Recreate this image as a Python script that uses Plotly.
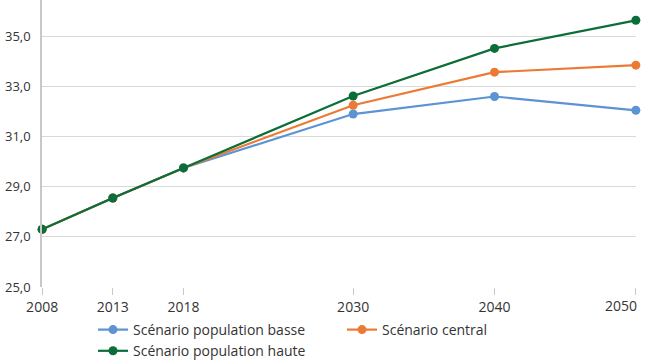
import plotly.graph_objects as go

years = [2008, 2013, 2018, 2030, 2040, 2050]
year_labels = ["2008", "2013", "2018", "2030", "2040", "2050"]
basse = [27.3, 28.55, 29.75, 31.9, 32.6, 32.05]
central = [27.3, 28.55, 29.75, 32.25, 33.57, 33.85]
haute = [27.3, 28.55, 29.75, 32.62, 34.52, 35.64]
yticks = [25, 27, 29, 31, 33, 35]

series = [
    ("Scénario population basse", basse, "#5b93d3"),
    ("Scénario central", central, "#ec7a34"),
    ("Scénario population haute", haute, "#0b6e38"),
]

fig = go.Figure()
for name, vals, col in series:
    fig.add_trace(go.Scatter(
        x=years, y=vals, name=name, mode="lines+markers",
        line=dict(color=col, width=2.2),
        marker=dict(color=col, size=9),
        cliponaxis=False,
    ))

# last tick label is right-aligned to stay inside the chart, as in the original
ticktext = year_labels[:-1] + [""]
fig.add_annotation(
    x=years[-1], y=0, xref="x", yref="paper", text=year_labels[-1],
    showarrow=False, xanchor="right", yanchor="top", xshift=3, yshift=-7,
    font=dict(size=14, color="#333333"),
)

font = "Open Sans"
fig.update_layout(
    width=646, height=363,
    margin=dict(l=42, r=10, t=0, b=76, autoexpand=False),
    paper_bgcolor="white", plot_bgcolor="white",
    separators=",.",
    font=dict(family=font, size=14, color="#333333"),
    showlegend=True,
    legend=dict(
        orientation="h", x=93 / 646, y=1 - 314 / 363, xref="container", yref="container",
        xanchor="left", yanchor="top",
        entrywidth=204, entrywidthmode="pixels",
        font=dict(size=14, color="#333333"),
        itemwidth=30, tracegroupgap=0,
    ),
    xaxis=dict(
        range=[2007.99, 2050.01], tickmode="array", tickvals=years, ticktext=ticktext,
        showgrid=False, zeroline=False,
        showline=False, ticks="outside", ticklen=7, tickcolor="#c8c8c8",
        tickfont=dict(size=14, color="#333333"),
        ticklabeloverflow="allow",
    ),
    yaxis=dict(
        range=[25, 36.45], tickmode="array", tickvals=yticks, tickformat=".1f",
        showgrid=True, gridcolor="#d9d9d9", gridwidth=1,
        zeroline=False, showline=True, linecolor="#c8c8c8", linewidth=1.5,
        ticks="", ticklabelstandoff=7, ticklabeloverflow="allow",
        tickfont=dict(size=13, color="#333333"),
    ),
)

fig.write_html("out.html", config={"displayModeBar": False},
               post_script="document.body.style.margin='0';")
